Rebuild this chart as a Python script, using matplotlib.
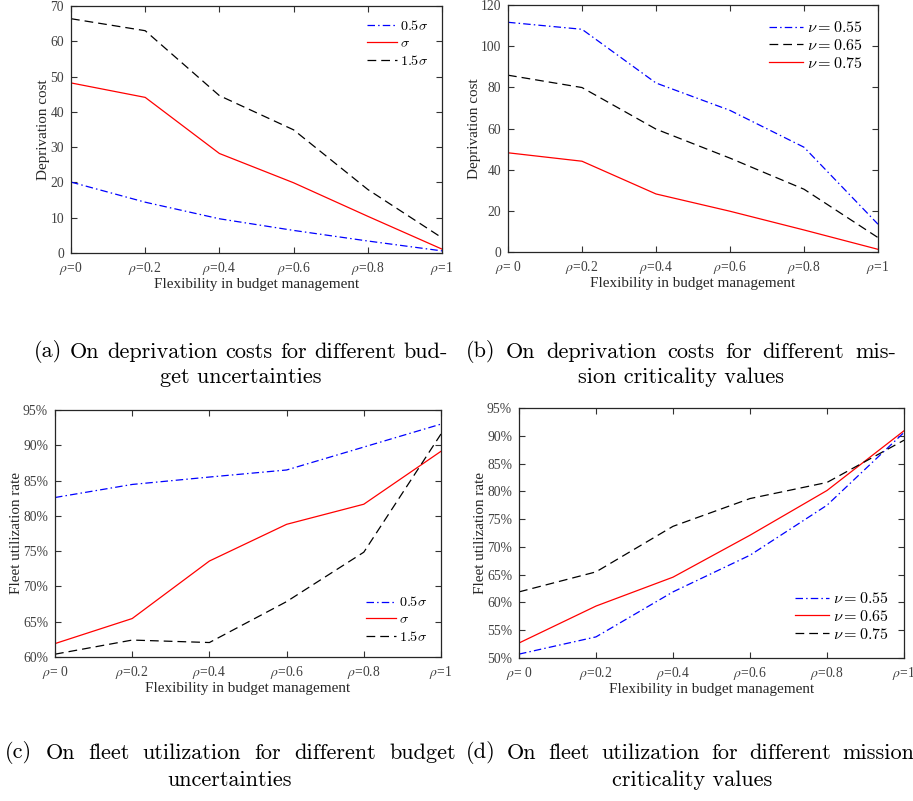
import matplotlib
matplotlib.use("Agg")
import matplotlib.pyplot as plt
from matplotlib.ticker import FuncFormatter
from matplotlib.font_manager import FontProperties

plt.rcParams["font.family"] = "Liberation Serif"
plt.rcParams["mathtext.fontset"] = "stix"

rho = [0, 0.2, 0.4, 0.6, 0.8, 1.0]
xlabels_a = [r"$\rho$=0", r"$\rho$=0.2", r"$\rho$=0.4", r"$\rho$=0.6", r"$\rho$=0.8", r"$\rho$=1"]
xlabels = [r"$\rho$= 0", r"$\rho$=0.2", r"$\rho$=0.4", r"$\rho$=0.6", r"$\rho$=0.8", r"$\rho$=1"]

# (a) deprivation cost vs budget uncertainty
cost_half_sigma = [20.1, 14.4, 9.7, 6.4, 3.4, 0.6]
cost_sigma = [48.2, 44.1, 28.2, 19.9, 10.4, 1.1]
cost_1half_sigma = [66.4, 63.0, 44.6, 34.9, 18.0, 4.3]

# (b) deprivation cost vs mission criticality
cost_nu55 = [111.6, 108.2, 82.1, 68.8, 50.9, 13.5]
cost_nu65 = [85.9, 79.9, 59.7, 45.6, 30.5, 7.0]
cost_nu75 = [48.2, 44.1, 28.2, 19.8, 10.7, 1.3]

# (c) fleet utilization vs budget uncertainty
util_half_sigma = [82.6, 84.45, 85.5, 86.5, 89.75, 93.0]
util_sigma = [61.9, 65.45, 73.6, 78.8, 81.65, 89.15]
util_1half_sigma = [60.4, 62.4, 62.05, 67.85, 74.85, 91.6]

# (d) fleet utilization vs mission criticality
util_nu55 = [50.7, 53.8, 61.9, 68.5, 77.5, 90.6]
util_nu65 = [52.7, 59.35, 64.55, 72.1, 80.15, 90.9]
util_nu75 = [61.9, 65.5, 73.7, 78.7, 81.6, 89.2]

captions = [
    ("(a) On deprivation costs for different bud-", "get uncertainties"),
    ("(b) On deprivation costs for different mis-", "sion criticality values"),
    ("(c) On fleet utilization for different budget", "uncertainties"),
    ("(d) On fleet utilization for different mission", "criticality values"),
]

BLUE = "#0000ff"
RED = "#ff0000"
BLACK = "#000000"
DASHDOT = (0, (6, 2.5, 1.2, 2.5))
DASHED = (0, (7, 4))
LW = 0.9
TICKC = "#404040"

fig = plt.figure(figsize=(9.13, 8.01), dpi=100)
W, H = 913.0, 801.0


def make_ax(l, t, r, b):
    return fig.add_axes([l / W, 1 - b / H, (r - l) / W, (b - t) / H])


def style(ax, labels, ylabel):
    ax.set_xlim(0, 1)
    ax.set_xticks(rho)
    ax.set_xticklabels(labels)
    ax.tick_params(direction="in", top=True, right=True, length=4, width=0.8,
                   labelsize=9.8, colors="#333333", labelcolor=TICKC, pad=5)
    for s in ax.spines.values():
        s.set_linewidth(0.9)
        s.set_color("#262626")
    ax.set_xlabel("Flexibility in budget management", fontsize=10.9, color="#262626", labelpad=1)
    ax.set_ylabel(ylabel, fontsize=10.9, color="#262626", labelpad=0)


def legend(ax, loc, size, spacing):
    prop = FontProperties(size=size, math_fontfamily="cm")
    ax.legend(loc=loc, frameon=False, prop=prop, handlelength=2.1, handletextpad=0.25,
              labelspacing=spacing, borderaxespad=0.55)


# (a)
ax = make_ax(71, 6, 442, 253)
ax.plot(rho, cost_half_sigma, color=BLUE, lw=LW, linestyle=DASHDOT, label=r"$0.5\sigma$")
ax.plot(rho, cost_sigma, color=RED, lw=LW, label=r"$\sigma$")
ax.plot(rho, cost_1half_sigma, color=BLACK, lw=LW, linestyle=DASHED, label=r"$1.5\sigma$")
ax.set_ylim(0, 70)
ax.set_yticks(range(0, 71, 10))
style(ax, xlabels_a, "Deprivation cost")
legend(ax, "upper right", 10.2, 0.25)

# (b)
ax = make_ax(508, 5, 878, 252)
ax.plot(rho, cost_nu55, color=BLUE, lw=LW, linestyle=DASHDOT, label=r"$\nu = 0.55$")
ax.plot(rho, cost_nu65, color=BLACK, lw=LW, linestyle=DASHED, label=r"$\nu = 0.65$")
ax.plot(rho, cost_nu75, color=RED, lw=LW, label=r"$\nu = 0.75$")
ax.set_ylim(0, 120)
ax.set_yticks(range(0, 121, 20))
style(ax, xlabels, "Deprivation cost")
legend(ax, "upper right", 11.6, 0.1)

pct = FuncFormatter(lambda v, p: "%d%%" % v)

# (c)
ax = make_ax(55, 410, 441, 657)
ax.plot(rho, util_half_sigma, color=BLUE, lw=LW, linestyle=DASHDOT, label=r"$0.5\sigma$")
ax.plot(rho, util_sigma, color=RED, lw=LW, label=r"$\sigma$")
ax.plot(rho, util_1half_sigma, color=BLACK, lw=LW, linestyle=DASHED, label=r"$1.5\sigma$")
ax.set_ylim(60, 95)
ax.set_yticks(range(60, 96, 5))
ax.yaxis.set_major_formatter(pct)
style(ax, xlabels, "Fleet utilization rate")
legend(ax, "lower right", 10.2, 0.25)

# (d)
ax = make_ax(519, 408, 904, 658)
ax.plot(rho, util_nu55, color=BLUE, lw=LW, linestyle=DASHDOT, label=r"$\nu = 0.55$")
ax.plot(rho, util_nu65, color=RED, lw=LW, label=r"$\nu = 0.65$")
ax.plot(rho, util_nu75, color=BLACK, lw=LW, linestyle=DASHED, label=r"$\nu = 0.75$")
ax.set_ylim(50, 95)
ax.set_yticks(range(50, 96, 5))
ax.yaxis.set_major_formatter(pct)
style(ax, xlabels, "Fleet utilization rate")
legend(ax, "lower right", 11.6, 0.1)

# sub-figure captions (first line justified, second line centred)
cap_kw = dict(fontsize=16, family="cmr10", color="black", va="center")
renderer = fig.canvas.get_renderer()


def justified(text, x0, x1, y):
    words = text.split()
    objs = [fig.text(0, 1 - y / H, w, ha="left", **cap_kw) for w in words]
    widths = [o.get_window_extent(renderer).width for o in objs]
    gap = (x1 - x0 - sum(widths)) / (len(words) - 1)
    x = x0
    for o, w in zip(objs, widths):
        o.set_x(x / W)
        x += w + gap


spans = [(34, 448, 352, 241, 377), (466, 896, 352, 681, 377),
         (5, 456, 753, 230, 780), (466, 914, 753, 692, 780)]
for (line1, line2), (x0, x1, y1, xc, y2) in zip(captions, spans):
    justified(line1, x0, x1, y1)
    fig.text(xc / W, 1 - y2 / H, line2, ha="center", **cap_kw)

fig.savefig("out.png", dpi=100)
